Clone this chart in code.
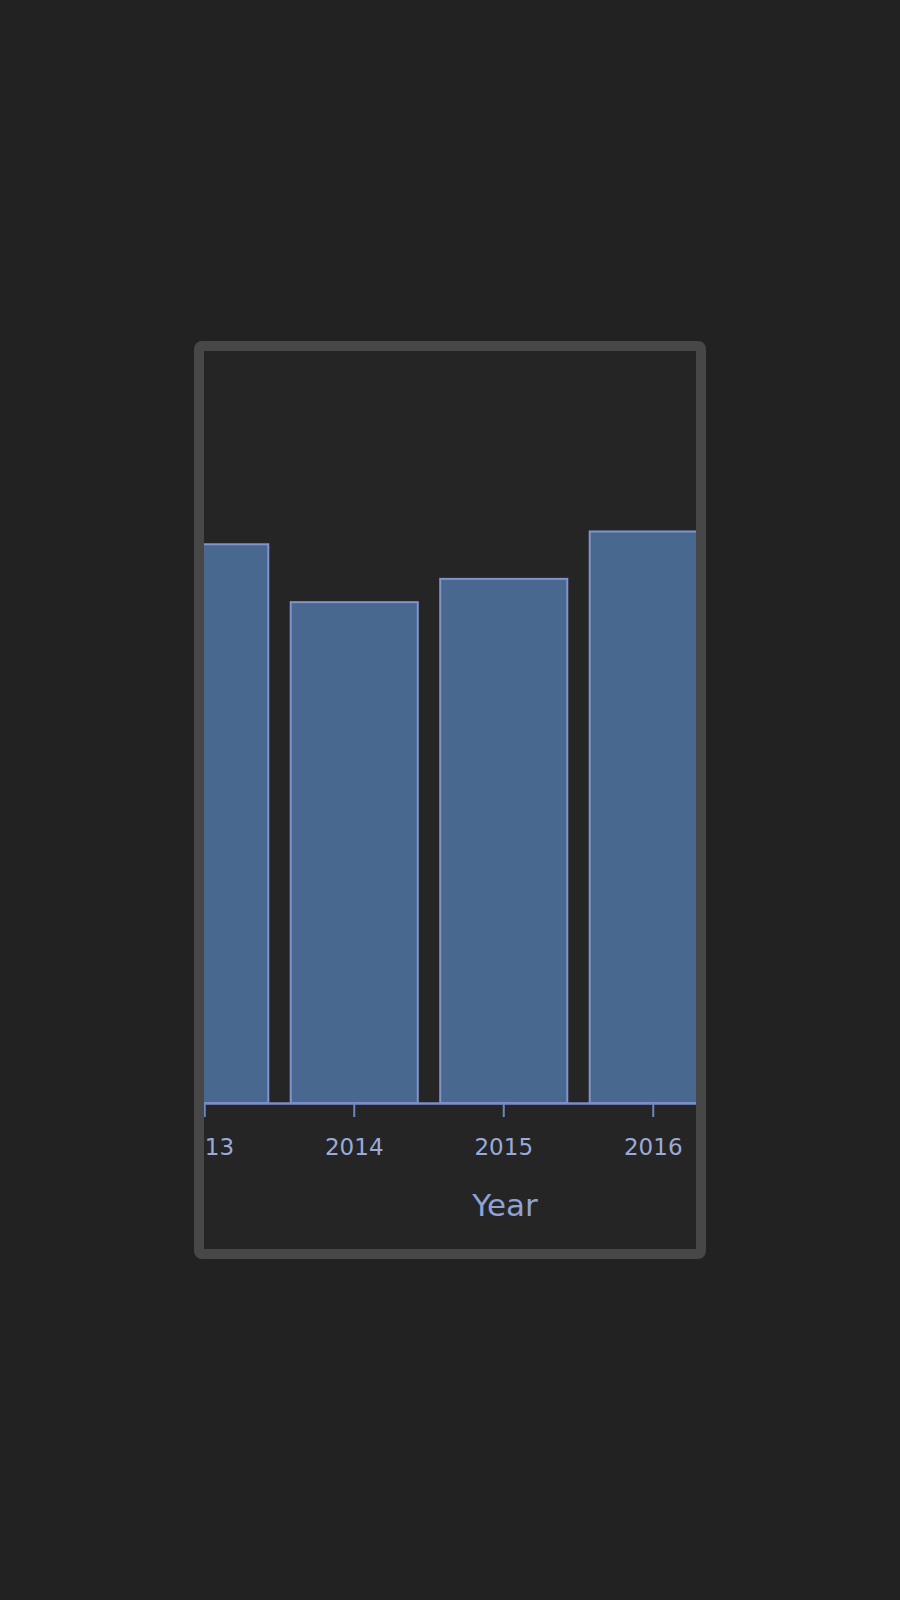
<!DOCTYPE html>
<html>
<head>
<meta charset="utf-8">
<script src="https://cdn.jsdelivr.net/npm/d3@7"></script>
<style>
  body {
    margin: 0;
    background: #222222;
    width: 900px;
    height: 1600px;
    font-family: "DejaVu Sans", Verdana, sans-serif;
  }
  #app {
    position: absolute;
    left: 194px;
    top: 341px;
    width: 492px;
    height: 898px;
    border: 10px solid #474747;
    border-radius: 8px;
    background: #252525;
    overflow: hidden;
  }
</style>
</head>
<body>
<div id="app"></div>
<script>
// Data
const years = ["2013", "2014", "2015", "2016"];
const values = [74.3, 66.6, 69.7, 76.0];

const width = 492;
const height = 898;
const baseline = 752;

// Band scale runs past the visible box, the frame clips it
const xScale = d3
  .scaleBand()
  .domain(years)
  .range([-74, 524])
  .paddingInner(0.15)
  .paddingOuter(0.075);

const yScale = d3
  .scaleLinear()
  .domain([0, 100])
  .range([baseline, 0]);

const svg = d3
  .select("#app")
  .append("svg")
  .attr("width", width)
  .attr("height", height)
  .style("display", "block");

// Draw bars
svg
  .selectAll("rect")
  .data(years)
  .enter()
  .append("rect")
  .attr("class", "bar")
  .attr("x", d => xScale(d))
  .attr("y", (d, i) => yScale(values[i]))
  .attr("width", xScale.bandwidth())
  .attr("height", (d, i) => baseline - yScale(values[i]))
  .attr("fill", "#486890")
  .attr("stroke", "#8394cc")
  .attr("stroke-width", 2);

// Draw x axis
const xAxis = d3
  .axisBottom(xScale)
  .tickSizeInner(14)
  .tickSizeOuter(0)
  .tickPadding(22);

const gx = svg
  .append("g")
  .attr("id", "x-axis")
  .attr("transform", `translate(0, ${baseline})`)
  .call(xAxis);

gx.select(".domain")
  .attr("stroke", "#7d8cca")
  .attr("stroke-width", 2.5);

gx.selectAll(".tick line")
  .attr("stroke", "#6a88c0")
  .attr("stroke-width", 2);

gx.selectAll(".tick text")
  .attr("fill", "#9aabda")
  .style("font-family", "'DejaVu Sans', Verdana, sans-serif")
  .style("font-size", "23px");

// Draw x-axis label
svg
  .append("text")
  .text("Year")
  .attr("x", 301)
  .attr("y", 865)
  .attr("text-anchor", "middle")
  .attr("fill", "#8ea2d6")
  .style("font-family", "'DejaVu Sans', Verdana, sans-serif")
  .style("font-size", "31px");
</script>
</body>
</html>
